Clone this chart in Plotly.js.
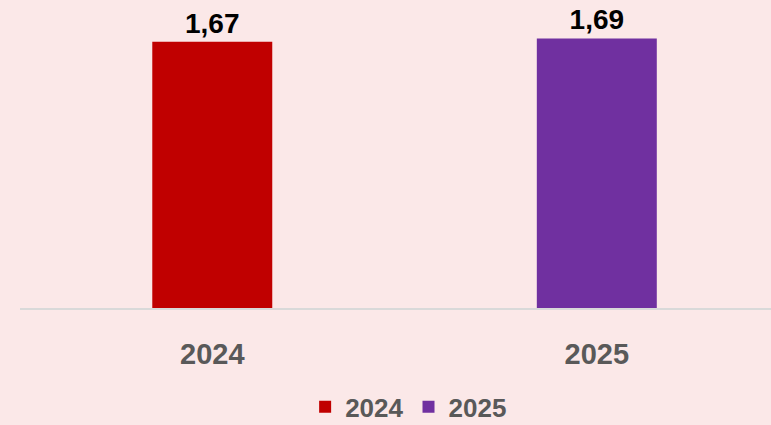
<!DOCTYPE html>
<html>
<head>
<meta charset="utf-8">
<script src="https://cdn.plot.ly/plotly-3.0.1.min.js"></script>
<style>html,body{margin:0;padding:0;background:#fbe8e8;}#chart{width:771px;height:425px;}</style>
</head>
<body>
<div id="chart"></div>
<script>
const categories = ['2024', '2025'];
const values = [1.67, 1.69];
const labels = ['1,67', '1,69'];
const colors = ['#c00000', '#7030a0'];

const FONT = 'Liberation Sans, Arial, sans-serif';

const traces = categories.map((c, i) => ({
  type: 'bar',
  name: c,
  x: [c],
  y: [values[i]],
  text: [labels[i]],
  textposition: 'outside',
  textfont: {family: FONT, size: 28, color: '#000000', weight: 'bold'},
  marker: {color: colors[i]},
  width: 0.312,
  cliponaxis: false,
  hoverinfo: 'skip'
}));

const layout = {
  width: 771,
  height: 425,
  paper_bgcolor: '#fbe8e8',
  plot_bgcolor: '#fbe8e8',
  margin: {l: 20, r: 0, t: 0, b: 117},
  barmode: 'overlay',
  showlegend: true,
  legend: {
    orientation: 'h',
    xref: 'container', yref: 'container',
    x: 0.53, xanchor: 'center',
    y: 0.098, yanchor: 'top',
    font: {family: FONT, size: 26, color: '#595959', weight: 'bold'},
    itemclick: false, itemdoubleclick: false,
    bgcolor: 'rgba(0,0,0,0)'
  },
  xaxis: {
    type: 'category',
    range: [-0.5, 1.453],
    showline: true,
    linecolor: '#d9d9d9',
    linewidth: 1.5,
    ticks: '',
    showgrid: false,
    zeroline: false,
    ticklabelstandoff: 20,
    tickfont: {family: FONT, size: 29, color: '#595959', weight: 'bold'},
    fixedrange: true
  },
  yaxis: {
    range: [0, 1.931],
    visible: false,
    showgrid: false,
    zeroline: false,
    fixedrange: true
  }
};

Plotly.newPlot('chart', traces, layout, {displayModeBar: false, staticPlot: true});
</script>
</body>
</html>
